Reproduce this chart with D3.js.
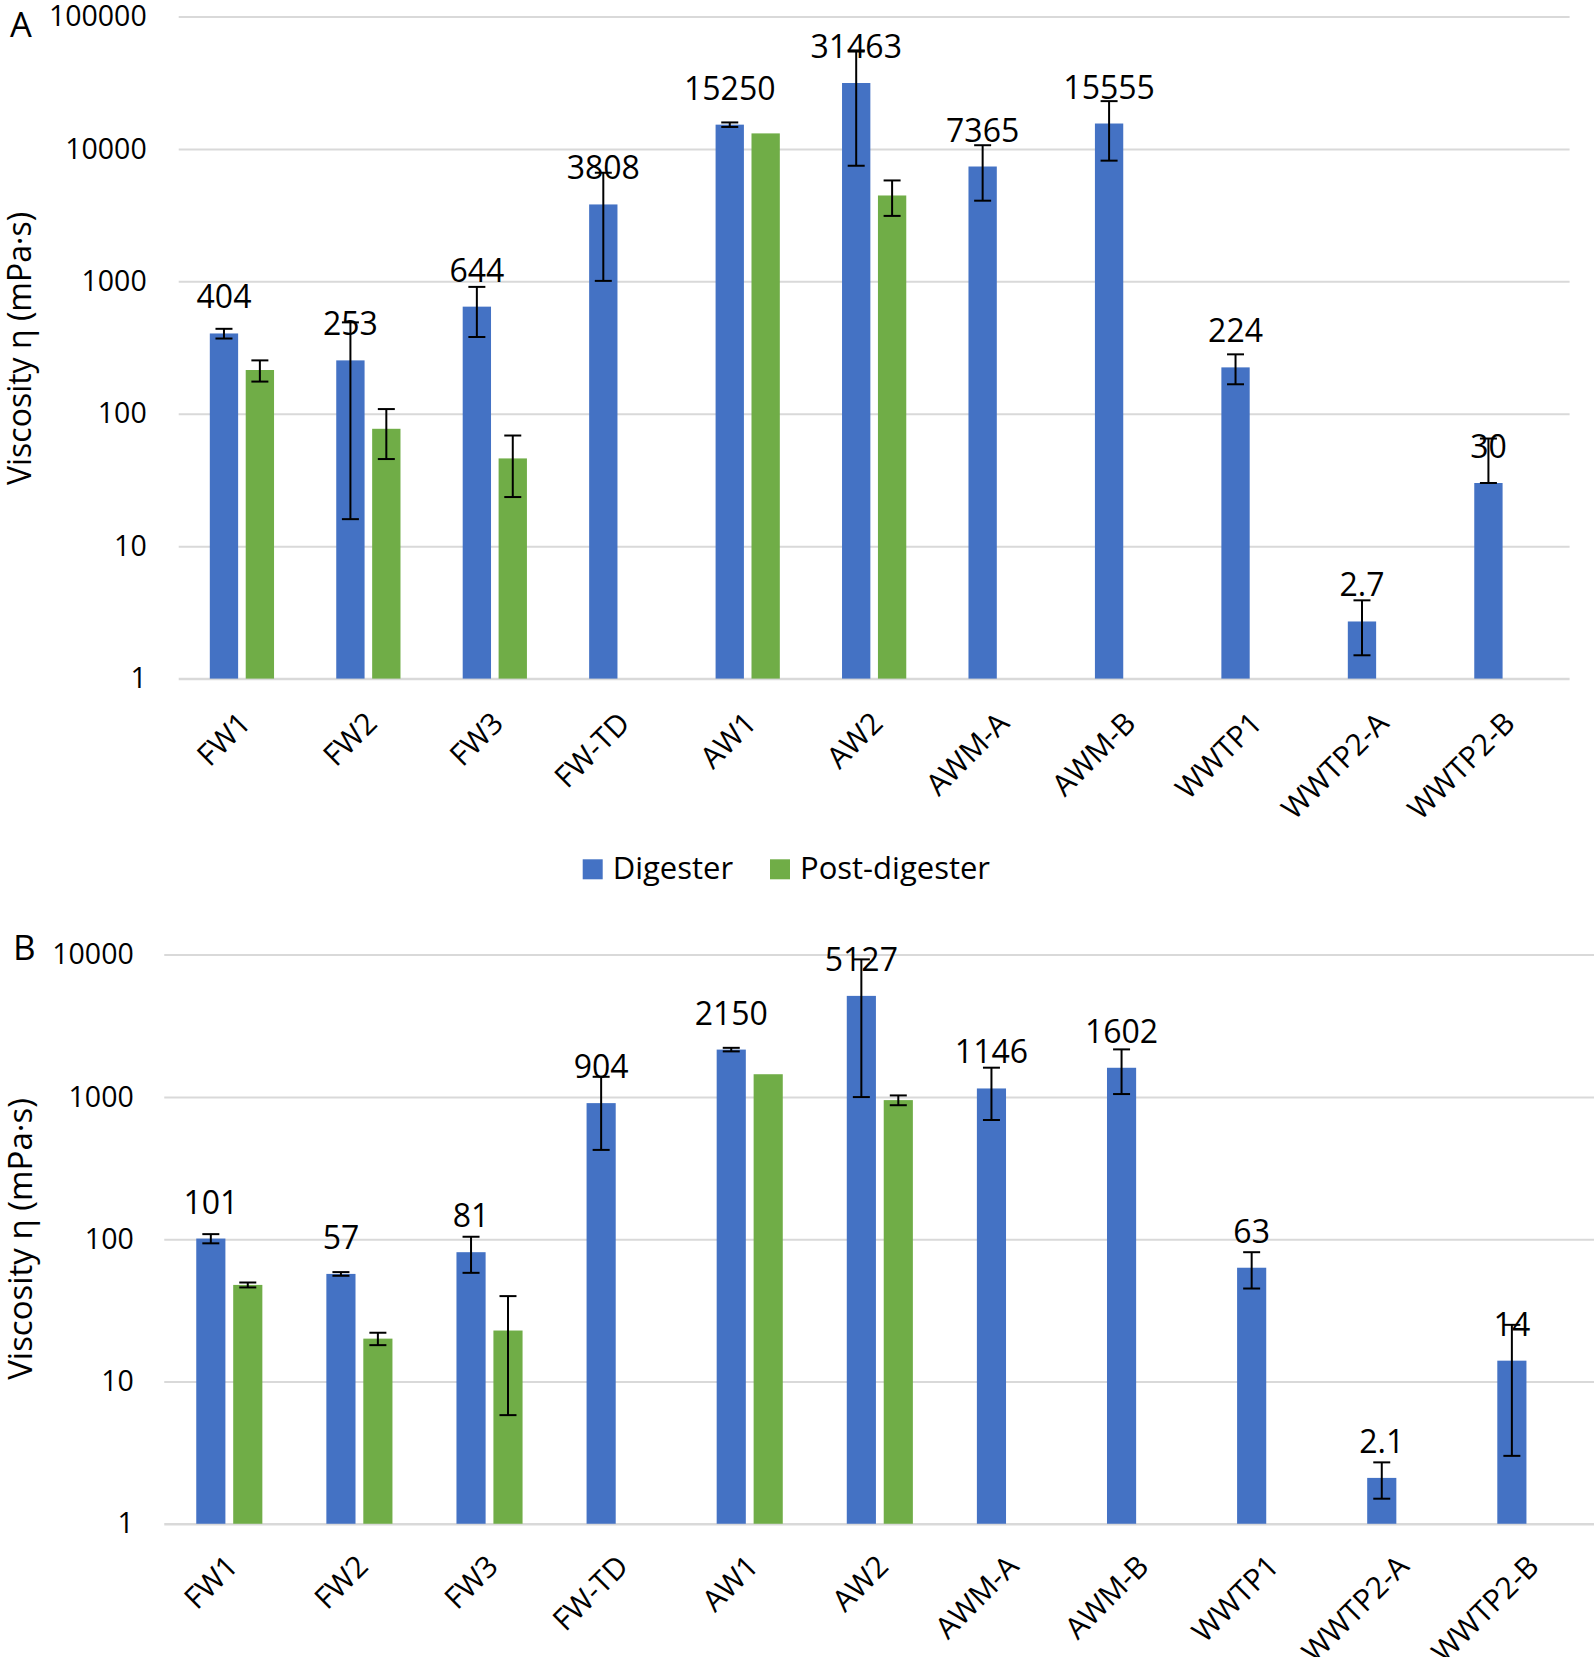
<!DOCTYPE html>
<html>
<head>
<meta charset="utf-8">
<script src="https://cdn.jsdelivr.net/npm/d3@7"></script>
<style>
  html, body { margin: 0; padding: 0; background: #fff; }
  svg { display: block; }
  text { font-family: "Open Sans", "Noto Sans", sans-serif; fill: #000; }
</style>
</head>
<body>
<svg id="chart" width="1594" height="1657"></svg>
<script>
// ---------------- DATA ----------------
const categories = ["FW1", "FW2", "FW3", "FW-TD", "AW1", "AW2", "AWM-A", "AWM-B", "WWTP1", "WWTP2-A", "WWTP2-B"];
const seriesNames = ["Digester", "Post-digester"];

// Panel A
const digesterA    = [404, 253, 644, 3808, 15250, 31463, 7365, 15555, 224, 2.7, 30];
const digesterA_sd = [34, 237, 264, 2800, 600, 24000, 3300, 7400, 57, 1.2, 35];
const postA        = [214, 77, 46, null, 13100, 4450, null, null, null, null, null];
const postA_sd     = [39, 31.5, 22.5, null, null, 1330, null, null, null, null, null];
const ticksA = [1, 10, 100, 1000, 10000, 100000];

// Panel B
const digesterB    = [101, 57, 81, 904, 2150, 5127, 1146, 1602, 63, 2.1, 14];
const digesterB_sd = [7.5, 1.7, 23, 480, 62, 4130, 458, 555, 18, 0.6, 11];
const postB        = [47.7, 20, 22.8, null, 1443, 949, null, null, null, null, null];
const postB_sd     = [1.9, 2, 17, null, null, 75, null, null, null, null, null];
const ticksB = [1, 10, 100, 1000, 10000];

const yTitle = "Viscosity η (mPa·s)";
const colors = { "Digester": "#4472C4", "Post-digester": "#70AD47" };

// ---------------- DRAW ----------------
const svg = d3.select("#chart");
svg.append("rect").attr("width", 1594).attr("height", 1657).attr("fill", "#fff");

function panel(cfg) {
  const g = svg.append("g");
  const x = d3.scaleBand().domain(categories).range([cfg.left, cfg.right]).padding(0);
  const y = d3.scaleLog().domain([1, cfg.ticks[cfg.ticks.length - 1]]).range([cfg.bottom, cfg.top]);
  const bw = x.bandwidth();
  const barW = bw * 0.224, gap = bw * 0.06;
  const x1 = d3.scaleBand().domain(seriesNames)
    .range([-(barW + gap / 2), barW + gap / 2])
    .paddingInner(gap / (barW + gap)).paddingOuter(0);

  // gridlines
  const grid = d3.axisLeft(y).tickValues(cfg.ticks).tickSize(-(cfg.right - cfg.left)).tickFormat("");
  const gg = g.append("g").attr("transform", `translate(${cfg.left},0)`).call(grid);
  gg.select(".domain").remove();
  gg.selectAll(".tick line").attr("stroke", "#d9d9d9").attr("stroke-width", 2);
  gg.selectAll(".tick").filter(d => d === 1).select("line").attr("stroke-width", 2.5);

  // y tick labels
  const ya = d3.axisLeft(y).tickValues(cfg.ticks).tickSize(0).tickPadding(cfg.tickPad).tickFormat(d3.format("d"));
  const yg = g.append("g").attr("transform", `translate(${cfg.left},0)`).call(ya);
  yg.select(".domain").remove();
  yg.selectAll("text").attr("font-size", 28.5).attr("font-family", '"Open Sans", sans-serif').attr("fill", "#000");

  // x labels
  const xa = d3.axisBottom(x).tickSize(0).tickPadding(0);
  const xg = g.append("g").attr("transform", `translate(0,${cfg.bottom})`).call(xa);
  xg.select(".domain").remove();
  xg.selectAll("text")
    .attr("font-size", 30).attr("font-family", '"Open Sans", sans-serif').attr("fill", "#000")
    .attr("text-anchor", "end")
    .attr("dy", "0.35em").attr("y", 0).attr("x", 0)
    .attr("transform", `translate(${cfg.lblDx},${cfg.lblDy}) rotate(-45)`);

  // bars
  const rows = categories.map((c, i) => ({
    cat: c,
    vals: [
      { s: "Digester", v: cfg.dig[i], sd: cfg.digSd[i] },
      { s: "Post-digester", v: cfg.post[i], sd: cfg.postSd[i] }
    ]
  }));
  const grp = g.selectAll("g.cat").data(rows).join("g").attr("class", "cat")
    .attr("transform", d => `translate(${x(d.cat) + bw / 2},0)`);
  grp.selectAll("rect").data(d => d.vals.filter(v => v.v != null)).join("rect")
    .attr("x", d => x1(d.s)).attr("width", x1.bandwidth())
    .attr("y", d => y(d.v)).attr("height", d => y(1) - y(d.v))
    .attr("fill", d => colors[d.s]);

  // error bars
  const eb = grp.selectAll("g.eb").data(d => d.vals.filter(v => v.v != null && v.sd != null)).join("g").attr("class", "eb")
    .attr("transform", d => `translate(${x1(d.s) + x1.bandwidth() / 2},0)`);
  const lo = d => (d.v - d.sd > 0 ? d.v - d.sd : d.v);
  const hi = d => d.v + d.sd;
  eb.append("line").attr("x1", 0).attr("x2", 0).attr("y1", d => y(lo(d))).attr("y2", d => y(hi(d)))
    .attr("stroke", "#000").attr("stroke-width", 2);
  eb.append("line").attr("x1", -8.5).attr("x2", 8.5).attr("y1", d => y(lo(d))).attr("y2", d => y(lo(d)))
    .attr("stroke", "#000").attr("stroke-width", 2);
  eb.append("line").attr("x1", -8.5).attr("x2", 8.5).attr("y1", d => y(hi(d))).attr("y2", d => y(hi(d)))
    .attr("stroke", "#000").attr("stroke-width", 2);

  // data labels (Digester)
  grp.append("text")
    .attr("x", x1("Digester") + x1.bandwidth() / 2)
    .attr("y", (d, i) => y(cfg.dig[i]) - 25)
    .attr("text-anchor", "middle").attr("font-size", 32)
    .text((d, i) => String(cfg.dig[i]));

  // y title
  g.append("text").attr("transform", `translate(${cfg.titleX},${cfg.titleY}) rotate(-90)`)
    .attr("text-anchor", "middle").attr("dy", "0.35em").attr("font-size", cfg.titleSize).text(yTitle);

  // panel letter
  g.append("text").attr("x", cfg.letterX).attr("y", cfg.letterY).attr("font-size", cfg.letterSize).text(cfg.letter);
}

panel({
  left: 178.7, right: 1569.6, top: 16.5, bottom: 678.6, ticks: ticksA, tickPad: 32,
  dig: digesterA, digSd: digesterA_sd, post: postA, postSd: postA_sd,
  lblDx: 3, lblDy: 39, titleX: 20, titleY: 348.5, titleSize: 32,
  letter: "A", letterX: 10, letterY: 37.3, letterSize: 34.5
});
panel({
  left: 164.25, right: 1595.4, top: 954.6, bottom: 1523.75, ticks: ticksB, tickPad: 30.5,
  dig: digesterB, digSd: digesterB_sd, post: postB, postSd: postB_sd,
  lblDx: 3, lblDy: 37, titleX: 20, titleY: 1239, titleSize: 33,
  letter: "B", letterX: 13, letterY: 960, letterSize: 35
});

// legend
const leg = svg.append("g");
const legX = [582.7, 770];
seriesNames.forEach((s, i) => {
  leg.append("rect").attr("x", legX[i]).attr("y", 859.3).attr("width", 20).attr("height", 20).attr("fill", colors[s]);
  leg.append("text").attr("x", legX[i] + 30).attr("y", 879).attr("font-size", 31).text(s);
});
</script>
</body>
</html>
